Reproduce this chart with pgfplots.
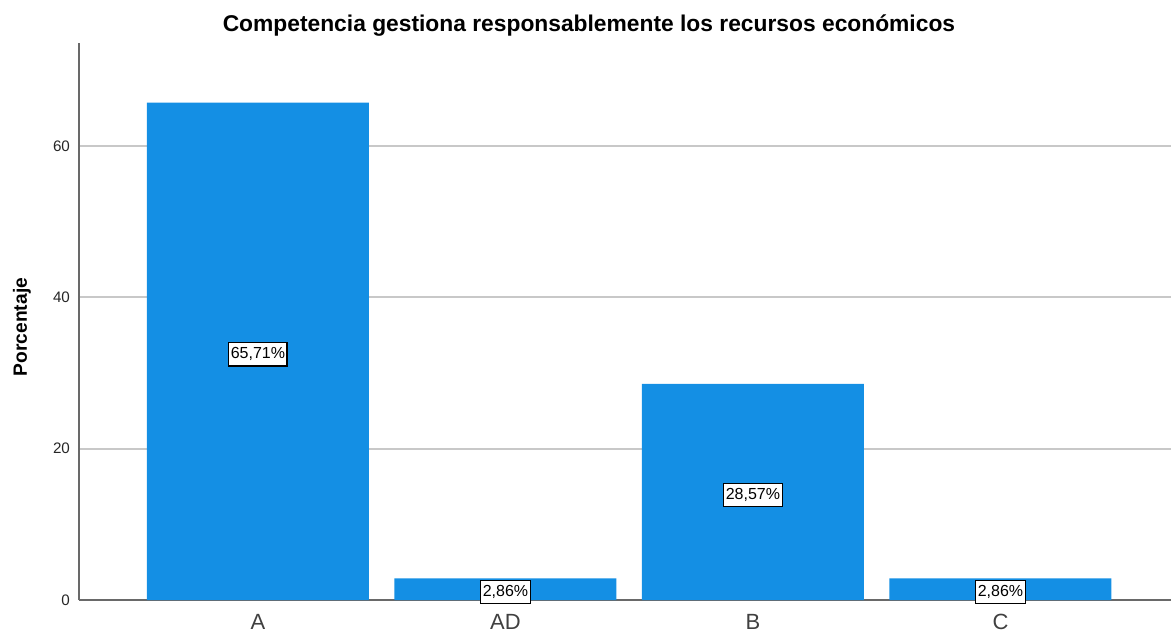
\documentclass[border=0pt]{standalone}
\usepackage{fontspec}
\setmainfont{Liberation Sans}
\usepackage{pgfplots}
\pgfplotsset{compat=1.18}
\definecolor{barblue}{RGB}{20,143,228}
\definecolor{gridgray}{RGB}{200,200,200}
\definecolor{axgray}{RGB}{105,105,105}
\begin{document}
\begin{tikzpicture}
\useasboundingbox (-39.5pt,-16pt) rectangle (546pt,300pt);
\begin{axis}[
  at={(0,0)}, anchor=south west,
  scale only axis,
  width=546pt, height=278.5pt,
  xmin=-0.723, xmax=3.689,
  ymin=0, ymax=73.6,
  ybar, bar width=111pt, bar shift=0pt,
  xtick={0,1,2,3},
  xticklabels={A,AD,B,C},
  ytick={0,20,40,60},
  major tick length=0pt,
  axis x line*=bottom, axis y line*=left,
  axis line style={axgray, line width=0.8pt, -},
  ymajorgrids, grid style={gridgray, line width=0.9pt},
  /pgf/number format/assume math mode=true,
  yticklabel style={font=\fontsize{7.6}{9}\selectfont, text=black!85, xshift=-1pt},
  xticklabel style={font=\fontsize{11}{13}\selectfont, text=black!75, yshift=-3.5pt},
  title={Competencia gestiona responsablemente los recursos económicos},
  title style={font=\bfseries\fontsize{11.4}{13}\selectfont, at={(axis description cs:0.467,1)}, anchor=center, yshift=2.5pt},
  ylabel={Porcentaje},
  ylabel style={font=\bfseries\fontsize{9.6}{11}\selectfont, at={(axis description cs:-0.0522,0.49)}, anchor=center},
  visualization depends on={rawy \as \rawy},
  nodes near coords={\pgfmathprintnumber[assume math mode=true, fixed, fixed zerofill, precision=2, use comma]{\pgfplotspointmeta}\%},
  every node near coord/.append style={font=\fontsize{8}{9}\selectfont, fill=white, draw=black, line width=0.6pt, inner xsep=1pt, inner ysep=2.5pt, anchor=center, shift={(axis direction cs:0,-\rawy/2)}, yshift=-1.5pt},
]
\addplot[fill=barblue, draw=none] coordinates {(0,65.71) (1,2.86) (2,28.57) (3,2.86)};
\end{axis}
\end{tikzpicture}
\end{document}
